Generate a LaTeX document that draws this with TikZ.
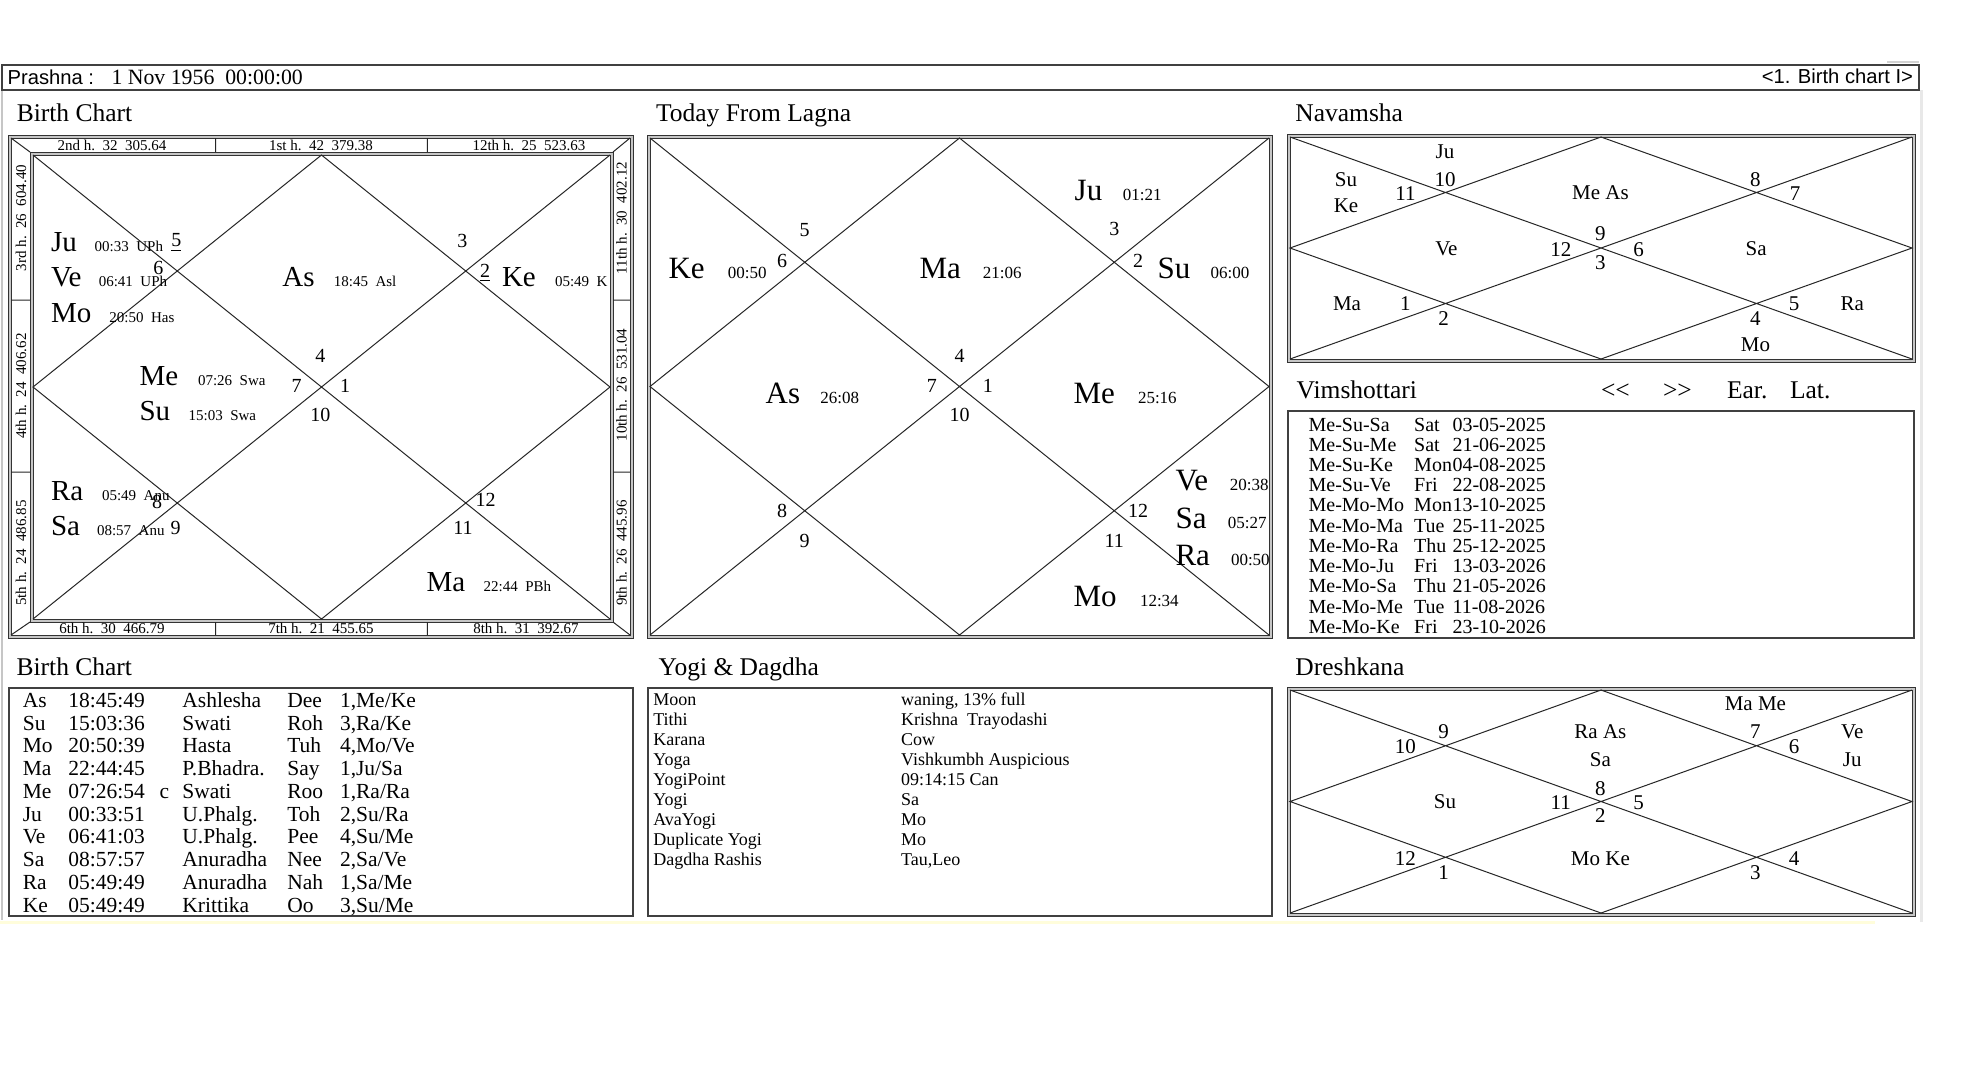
\documentclass[tikz,border=0pt]{standalone}
\usepackage{fontspec}
\setmainfont{Liberation Serif}
\newfontfamily\arialf{Liberation Sans}
\newcommand\dfrm[4]{%
  \fill[gray!45,even odd rule] (#1,#2) rectangle (#3,#4) ({#1+3},{#2+3}) rectangle ({#3-3},{#4-3});
  \draw[black!80,line width=0.5pt] (#1,#2) rectangle (#3,#4);
  \draw[black!80,line width=0.5pt] ({#1+3},{#2+3}) rectangle ({#3-3},{#4-3});}
\newcommand\kchart[4]{%
  \draw[cl] (#1,#2) -- (#3,#4) (#3,#2) -- (#1,#4)
    ({(#1+#3)/2},#2) -- (#3,{(#2+#4)/2}) -- ({(#1+#3)/2},#4) -- (#1,{(#2+#4)/2}) -- cycle;}
\newcommand\btrow[7]{%
  \node[tb] (bt#1a) at (22.8,#2) {#3};
  \node[tb] (bt#1b) at (68.4,#2) {#4};
  \node[tb] (bt#1c) at (182.4,#2) {#5};
  \node[tb] (bt#1d) at (287.3,#2) {#6};
  \node[tb] (bt#1e) at (340,#2) {#7};}
\newcommand\ygrow[3]{%
  \node[yg] (yg#1a) at (653.3,#2) {#3};}
\newcommand\ygval[3]{%
  \node[yg] (yg#1b) at (901.2,#2) {#3};}
\begin{document}
\begin{tikzpicture}[x=0.5pt,y=-0.5pt,
  lbl/.style={inner sep=0pt,outer sep=0pt},
  cl/.style={line width=0.5pt,black!85},
  ttl/.style={lbl,anchor=base west,font=\fontsize{12.75}{14}\selectfont},
  bcn/.style={lbl,font=\fontsize{10}{11}\selectfont},
  bcp/.style={lbl,anchor=base west,font=\fontsize{14.5}{16}\selectfont},
  bcd/.style={lbl,anchor=base west,font=\fontsize{7.5}{9}\selectfont},
  tdp/.style={lbl,anchor=base west,font=\fontsize{15.5}{17}\selectfont},
  tdd/.style={lbl,anchor=base west,font=\fontsize{8.5}{10}\selectfont},
  strip/.style={lbl,font=\fontsize{7.5}{9}\selectfont},
  dv/.style={lbl,font=\fontsize{10.5}{12}\selectfont},
  tb/.style={lbl,anchor=base west,font=\fontsize{10.75}{12}\selectfont},
  yg/.style={lbl,anchor=base west,font=\fontsize{9}{10}\selectfont},
  vm/.style={lbl,anchor=base west,font=\fontsize{10}{11}\selectfont},
  box/.style={draw=black!75,line width=0.6pt}]
\useasboundingbox (0,0) rectangle (1968,1084);
\fill[white] (0,0) rectangle (1968,1084);

% window edges
\draw[gray!45,line width=1pt] (1.5,65) -- (1.5,920);
\draw[gray!18,line width=1.5pt] (1921,90) -- (1921,922);
\draw[gray!35,line width=1pt] (1887,62) -- (1919,62);
\draw[yellow!14,line width=1.5pt] (0,922) -- (1875,922);

% header
\draw[box] (2,65) rectangle (1919,90);
\node[lbl,anchor=base west,font=\arialf\fontsize{10.1}{11}\selectfont] (hdr1) at (7.6,84) {Prashna :};
\node[lbl,anchor=base west,font=\fontsize{10.9}{12}\selectfont] (hdr2) at (111.5,84) {1 Nov 1956~~00:00:00};
\node[lbl,anchor=base east,font=\arialf\fontsize{10.1}{11}\selectfont] (hdr3) at (1913,83.5) {<1. Birth chart I>};

% titles
\node[ttl] (t1) at (16.8,121.7) {Birth Chart};
\node[ttl] (t2) at (656,121.7) {Today From Lagna};
\node[ttl] (t3) at (1295.4,121.7) {Navamsha};
\node[ttl] (t4) at (1296.7,398.5) {Vimshottari};
\node[ttl] (t4a) at (1601,398.5) {<{}<};
\node[ttl] (t4b) at (1663,398.5) {>{}>};
\node[ttl] (t4c) at (1727,398.5) {Ear.};
\node[ttl] (t4d) at (1790,398.5) {Lat.};
\node[ttl] (t5) at (16.6,675) {Birth Chart};
\node[ttl] (t6) at (658.7,675) {Yogi \& Dagdha};
\node[ttl] (t7) at (1295.4,675) {Dreshkana};

% ---------------- Birth chart ----------------
\dfrm{8}{135}{633}{638}
\dfrm{30}{152}{613}{622}
\draw[cl] (215.5,138) -- (215.5,152) (427.3,138) -- (427.3,152)
  (215.5,622) -- (215.5,635) (427.3,622) -- (427.3,635)
  (11,300) -- (30,300) (11,472) -- (30,472)
  (613,300) -- (630,300) (613,472) -- (630,472)
  (11,138) -- (30,152) (630,138) -- (613,152)
  (11,635) -- (30,622) (630,635) -- (613,622);
\kchart{33}{155}{610}{619}
\node[strip] (s1) at (112,145.5) {2nd h.~~32~~305.64};
\node[strip] (s2) at (321,145.5) {1st h.~~42~~379.38};
\node[strip] (s3) at (529,145.5) {12th h.~~25~~523.63};
\node[strip] (s4) at (112,628.5) {6th h.~~30~~466.79};
\node[strip] (s5) at (321,628.5) {7th h.~~21~~455.65};
\node[strip] (s6) at (526,628.5) {8th h.~~31~~392.67};
\node[strip,rotate=90] (s7) at (21,218) {3rd h.~~26~~604.40};
\node[strip,rotate=90] (s8) at (21,386) {4th h.~~24~~406.62};
\node[strip,rotate=90] (s9) at (21,553) {5th h.~~24~~486.85};
\node[strip,rotate=90] (s10) at (621.5,218) {11th h.~~30~~402.12};
\node[strip,rotate=90] (s11) at (621.5,385) {10th h.~~26~~531.04};
\node[strip,rotate=90] (s12) at (621.5,553) {9th h.~~26~~445.96};
\foreach \x/\y/\t [count=\i] in {320.4/356/4, 296.7/386/7, 345/386/1, 320.4/415/10,
  462.4/240.7/3, 485/272.5/\underline{2}, 176.3/242.5/\underline{5}, 158.4/268.3/6,
  157/501.7/8, 175.5/528.3/9, 485.7/500/12, 463/528.3/11}
  \node[bcn] (bcn\i) at (\x,\y) {\t};
\foreach \p/\x/\y/\dx/\d [count=\i] in {Ju/51/251.7/94.7/00:33~~UPh,
  Ve/51/286.7/98.8/06:41~~UPh, Mo/51/322.7/109.4/20:50~~Has,
  As/282.4/286.7/333.9/18:45~~Asl, Ke/502/286.7/555/05:49~~K,
  Me/139.6/385/198/07:26~~Swa, Su/139.6/420/188.6/15:03~~Swa,
  Ra/51/500/102/05:49~~Anu, Sa/51/535/97/08:57~~Anu, Ma/426.5/591.7/483.7/22:44~~PBh}
  {\node[bcp] (bcp\i) at (\x,\y) {\p};
   \node[bcd] (bcd\i) at (\dx,\y) {\d};}

% ---------------- Today from Lagna ----------------
\dfrm{647}{135}{1272}{638}
\kchart{650}{138}{1269}{635}
\foreach \x/\y/\t [count=\i] in {804.5/230/5, 782/260.7/6, 1114.3/229.3/3, 1138/260.7/2,
  959.6/356/4, 931.8/386/7, 987.8/386/1, 959.6/415/10,
  782/510.7/8, 804.5/540.7/9, 1138/510.7/12, 1114.3/540.7/11}
  \node[bcn] (tdn\i) at (\x,\y) {\t};
\foreach \p/\x/\y/\dx/\d [count=\i] in {Ju/1074.7/200.7/1122.9/01:21,
  Ke/668.6/278.3/727.8/00:50, Ma/919.6/278.3/982.9/21:06, Su/1157.6/278.3/1210.6/06:00,
  As/765.7/403.3/820.4/26:08, Me/1073.5/403.3/1138/25:16,
  Ve/1175.5/490/1229.8/20:38, Sa/1175.5/528.3/1227.8/05:27,
  Ra/1175.5/565/1231/00:50, Mo/1073.5/606.7/1140/12:34}
  {\node[tdp] (tdp\i) at (\x,\y) {\p};
   \node[tdd] (tdd\i) at (\dx,\y) {\d};}

% ---------------- Navamsha ----------------
\dfrm{1287}{134}{1915}{362}
\kchart{1290}{137}{1912}{359}
\foreach \x/\y/\t [count=\i] in {1445/151.7/Ju, 1346/179.3/Su, 1346/206/Ke,
  1445/179.3/10, 1405.4/193.3/11, 1600.4/192.7/Me As, 1755.4/179.3/8, 1795/193.3/7,
  1446.4/248.3/Ve, 1560.8/250/12, 1600.4/234/9, 1600.4/262.7/3, 1638.7/250/6,
  1756.2/248.3/Sa, 1347/303.3/Ma, 1405.4/304/1, 1443.7/318.3/2, 1755.4/318.3/4,
  1794/304/5, 1852.2/303.3/Ra, 1755.4/345/Mo}
  \node[dv] (nv\i) at (\x,\y) {\t};

% ---------------- Vimshottari ----------------
\draw[box] (1288,411) rectangle (1914,638);
\foreach \a/\b/\c [count=\i] in {Me-Su-Sa/Sat/03-05-2025, Me-Su-Me/Sat/21-06-2025,
  Me-Su-Ke/Mon/04-08-2025, Me-Su-Ve/Fri/22-08-2025, Me-Mo-Mo/Mon/13-10-2025,
  Me-Mo-Ma/Tue/25-11-2025, Me-Mo-Ra/Thu/25-12-2025, Me-Mo-Ju/Fri/13-03-2026,
  Me-Mo-Sa/Thu/21-05-2026, Me-Mo-Me/Tue/11-08-2026, Me-Mo-Ke/Fri/23-10-2026}
  {\node[vm] (vma\i) at (1308.6,{431+20.23*(\i-1)}) {\a};
   \node[vm] (vmb\i) at (1414.2,{431+20.23*(\i-1)}) {\b};
   \node[vm] (vmc\i) at (1452.5,{431+20.23*(\i-1)}) {\c};}

% ---------------- Birth chart table ----------------
\draw[box] (9,688) rectangle (633,916);
\btrow{1}{707.3}{As}{18:45:49}{Ashlesha}{Dee}{1,Me/Ke}
\btrow{2}{730.0}{Su}{15:03:36}{Swati}{Roh}{3,Ra/Ke}
\btrow{3}{752.8}{Mo}{20:50:39}{Hasta}{Tuh}{4,Mo/Ve}
\btrow{4}{775.5}{Ma}{22:44:45}{P.Bhadra.}{Say}{1,Ju/Sa}
\btrow{5}{798.3}{Me}{07:26:54}{Swati}{Roo}{1,Ra/Ra}
\btrow{6}{821.0}{Ju}{00:33:51}{U.Phalg.}{Toh}{2,Su/Ra}
\btrow{7}{843.8}{Ve}{06:41:03}{U.Phalg.}{Pee}{4,Su/Me}
\btrow{8}{866.5}{Sa}{08:57:57}{Anuradha}{Nee}{2,Sa/Ve}
\btrow{9}{889.3}{Ra}{05:49:49}{Anuradha}{Nah}{1,Sa/Me}
\btrow{10}{912.0}{Ke}{05:49:49}{Krittika}{Oo}{3,Su/Me}
\node[tb] (btc) at (159.6,798.3) {c};

% ---------------- Yogi & Dagdha ----------------
\draw[box] (648,688) rectangle (1272,916);
\ygrow{1}{705}{Moon}\ygval{1}{705}{waning, 13\% full}
\ygrow{2}{725}{Tithi}\ygval{2}{725}{Krishna~~Trayodashi}
\ygrow{3}{745}{Karana}\ygval{3}{745}{Cow}
\ygrow{4}{765}{Yoga}\ygval{4}{765}{Vishkumbh Auspicious}
\ygrow{5}{785}{YogiPoint}\ygval{5}{785}{09:14:15 Can}
\ygrow{6}{805}{Yogi}\ygval{6}{805}{Sa}
\ygrow{7}{825}{AvaYogi}\ygval{7}{825}{Mo}
\ygrow{8}{845}{Duplicate Yogi}\ygval{8}{845}{Mo}
\ygrow{9}{865}{Dagdha Rashis}\ygval{9}{865}{Tau,Leo}

% ---------------- Dreshkana ----------------
\dfrm{1287}{687}{1915}{916}
\kchart{1290}{690}{1912}{913}
\foreach \x/\y/\t [count=\i] in {1755.4/704/Ma Me, 1443.7/731.7/9, 1405.4/746.7/10,
  1600.4/731.7/Ra As, 1600.4/759.3/Sa, 1755.4/731.7/7, 1794/746.7/6,
  1852.2/731.7/Ve, 1852.2/759.3/Ju, 1445/801.7/Su, 1560.8/802.7/11,
  1600.4/788.3/8, 1638.7/802.7/5, 1600.4/816/2, 1405.4/858.3/12,
  1443.7/872.7/1, 1600.4/858.3/Mo Ke, 1794/858.3/4, 1755.4/872.7/3}
  \node[dv] (dr\i) at (\x,\y) {\t};
\end{tikzpicture}
\end{document}
